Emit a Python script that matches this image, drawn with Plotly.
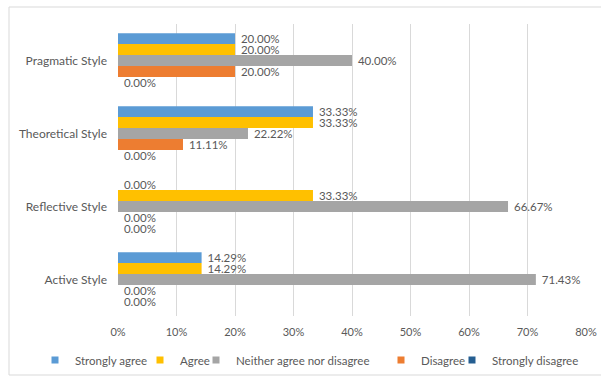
import plotly.graph_objects as go

# Learning styles, bottom to top on the category axis
styles = ["Active Style", "Reflective Style", "Theoretical Style", "Pragmatic Style"]

# Response shares (%) for each style, same order as `styles`
strongly_agree = [14.29, 0.00, 33.33, 20.00]
agree = [14.29, 33.33, 33.33, 20.00]
neither = [71.43, 66.67, 22.22, 40.00]
disagree = [0.00, 0.00, 11.11, 20.00]
strongly_disagree = [0.00, 0.00, 0.00, 0.00]

x_ticks = [0, 10, 20, 30, 40, 50, 60, 70, 80]
x_tick_labels = [f"{t}%" for t in x_ticks]

series = [
    ("Strongly agree", strongly_agree, "#5B9BD5"),
    ("Agree", agree, "#FFC000"),
    ("Neither agree nor disagree", neither, "#A5A5A5"),
    ("Disagree", disagree, "#ED7D31"),
    ("Strongly disagree", strongly_disagree, "#255E91"),
]

FONT = "Lato, 'Open Sans', sans-serif"
TXT = "#595959"

W, H = 601, 378
L, R, T, B = 118, 15, 24, 62
pw, ph = W - L - R, H - T - B

# Left edge (px) of each legend entry along the bottom row
legend_left_px = [35, 140, 196, 381, 452]
legend_y_px = 360

fig = go.Figure()
# Added in reverse so "Strongly agree" sits on top of each group
for name, vals, color in reversed(series):
    fig.add_trace(go.Bar(
        y=styles, x=vals, name=name, orientation="h",
        marker=dict(color=color, line=dict(width=0)),
        text=vals, texttemplate="\u00a0%{x:.2f}%", textposition="outside",
        textfont=dict(family=FONT, size=11.5, color=TXT),
        constraintext="none", cliponaxis=False,
        hoverinfo="skip", showlegend=False,
    ))

# Legend keys: small square swatches, one legend box per entry
legend_layouts = {}
for i, (name, vals, color) in enumerate(series):
    key = "legend" if i == 0 else f"legend{i + 1}"
    fig.add_trace(go.Scatter(
        x=[None], y=[None], mode="markers", name=name,
        marker=dict(symbol="square", size=7, color=color),
        legend=key, showlegend=True, hoverinfo="skip",
    ))
    legend_layouts[key] = dict(
        x=(legend_left_px[i] - L) / pw, xanchor="left",
        y=-(legend_y_px - (H - B)) / ph, yanchor="middle",
        orientation="h", itemwidth=30,
        font=dict(family=FONT, size=11.5, color=TXT),
        bgcolor="rgba(0,0,0,0)", borderwidth=0,
    )

fig.update_layout(
    width=W, height=H,
    margin=dict(l=L, r=R, t=T, b=B, autoexpand=False),
    paper_bgcolor="white", plot_bgcolor="white",
    barmode="group", bargap=0.25, bargroupgap=0,
    font=dict(family=FONT, size=11, color=TXT),
    xaxis=dict(
        range=[0, 80], tickvals=x_ticks, ticktext=x_tick_labels,
        showgrid=True, gridcolor="#D9D9D9", gridwidth=1,
        zeroline=False, showline=False, ticks="",
        ticklabelstandoff=8, automargin=False,
        tickfont=dict(family=FONT, size=11, color=TXT),
    ),
    yaxis=dict(
        categoryorder="array", categoryarray=styles,
        showgrid=False, zeroline=False, showline=False, ticks="",
        ticklabelstandoff=10, automargin=False,
        tickfont=dict(family=FONT, size=12, color=TXT),
    ),
    showlegend=True,
    shapes=[dict(
        type="rect", xref="paper", yref="paper",
        x0=(9 - L) / pw, x1=1 + (R + 5) / pw,
        y0=-(375 - (H - B)) / ph, y1=1 + (T - 7) / ph,
        line=dict(color="#D9D9D9", width=1), fillcolor="rgba(0,0,0,0)",
        layer="below",
    )],
    **legend_layouts,
)

fig.write_html("out.html")
